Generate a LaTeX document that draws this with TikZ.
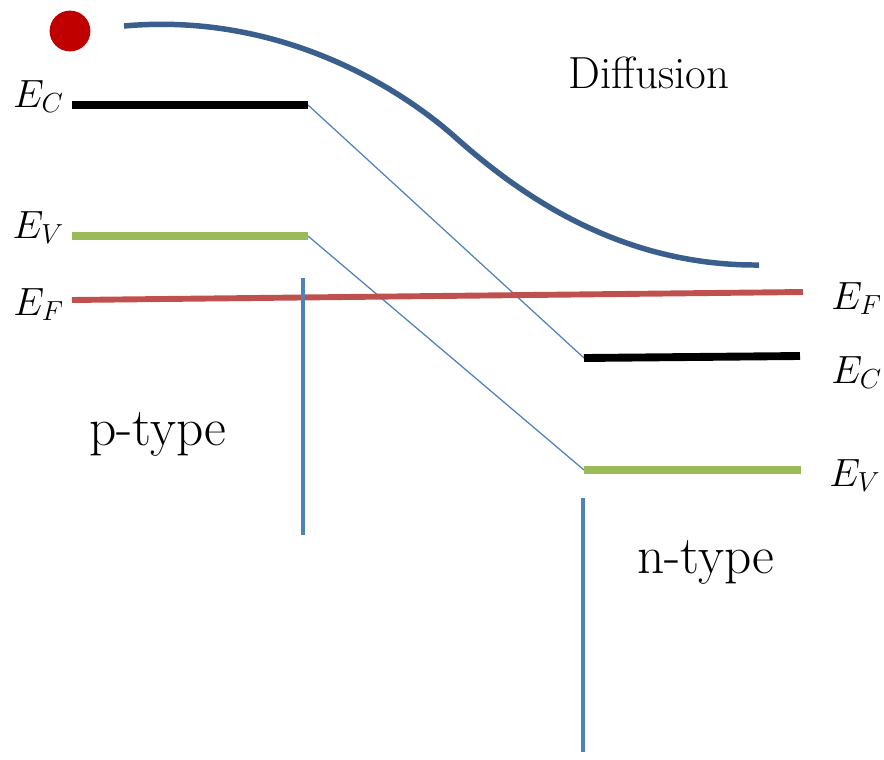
\RequirePackage{fix-cm}
\documentclass[tikz,border=0pt]{standalone}
\usepackage{tikz}
\usetikzlibrary{positioning}
\definecolor{bandblue}{RGB}{58,95,140}
\definecolor{levelgreen}{RGB}{155,187,89}
\definecolor{fermired}{RGB}{192,80,77}
\definecolor{edgeblue}{RGB}{79,129,189}
\definecolor{dotred}{RGB}{192,0,0}

\begin{document}
\begin{tikzpicture}[x=0.025cm,y=-0.025cm,
  level/.style={line width=5.6pt},
  link/.style={edgeblue,line width=0.9pt},
  junction/.style={edgeblue,line width=3.4pt},
  elabel/.style={font=\fontsize{28}{34}\selectfont,inner sep=0pt},
  tlabel/.style={font=\fontsize{38}{44}\selectfont,inner sep=0pt}]
\useasboundingbox (0,0) rectangle (884,759);
% end points of the levels
\coordinate (pc1) at (72,105);  \coordinate (pc2) at (308,105);
\coordinate (pv1) at (72,236);  \coordinate (pv2) at (308,236);
\coordinate (nc1) at (584,358); \coordinate (nc2) at (800,356);
\coordinate (nv1) at (584,470); \coordinate (nv2) at (801,470);
\coordinate (f1) at (72,300);   \coordinate (f2) at (803,292);
\coordinate (pj1) at (303,278); \coordinate (pj2) at (303,535);
\coordinate (nj1) at (583,498); \coordinate (nj2) at (583,752);
% thin links between the sides
\draw[link] (pc2) -- (nc1);
\draw[link] (pv2) -- (nv1);
% levels
\draw[level,black] (pc1) -- (pc2);
\draw[level,levelgreen] (pv1) -- (pv2);
\draw[level,black] (nc1) -- (nc2);
\draw[level,levelgreen] (nv1) -- (nv2);
\draw[fermired,line width=4.2pt] (f1) -- (f2);
\draw[junction] (pj1) -- (pj2);
\draw[junction] (nj1) -- (nj2);
% diffusion curve
\draw[bandblue,line width=3.9pt]
  (124,26) .. controls (280,12) and (400,88) .. (455,137)
  .. controls (520,195) and (620,266) .. (759,265);
\node[circle,fill=dotred,minimum size=1.02cm,inner sep=0pt] (dot) at (70,31) {};
% labels
\node[elabel,anchor=base east] (ecp) at (64,107) {$E_C$};
\node[elabel,anchor=base east] (evp) at (64,238) {$E_V$};
\node[elabel,anchor=base east] (efp) at (64,315) {$E_F$};
\node[elabel,anchor=base west] (efn) at (831,309) {$E_F$};
\node[elabel,anchor=base west] (ecn) at (831,383) {$E_C$};
\node[elabel,anchor=base west] (evn) at (829,486) {$E_V$};
\node[tlabel,anchor=base] (ptype) at (158,445) {p-type};
\node[tlabel,anchor=base] (ntype) at (706,573) {n-type};
\node[font=\fontsize{32}{38}\selectfont,inner sep=0pt,anchor=base] (diff) at (649,88) {Diffusion};
\end{tikzpicture}
\end{document}
